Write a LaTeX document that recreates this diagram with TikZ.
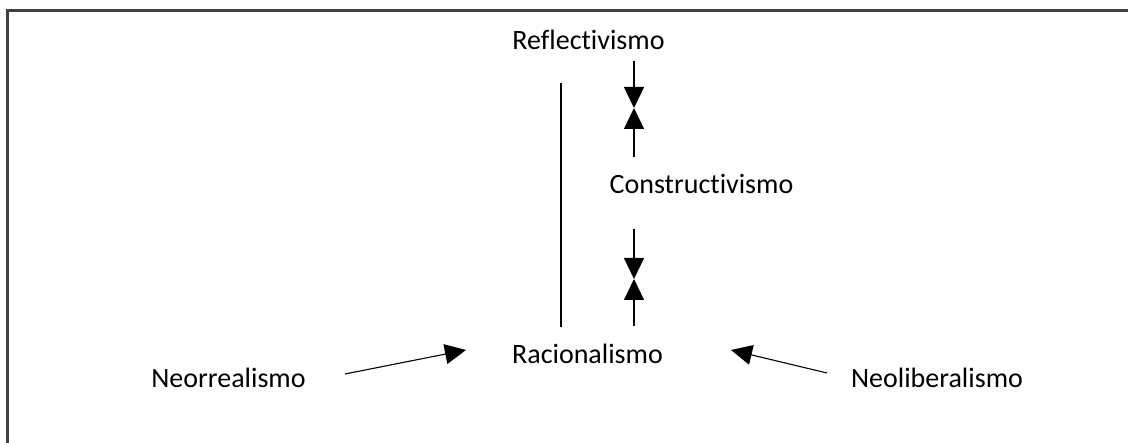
\documentclass[tikz,border=0pt]{standalone}
\usepackage{fontspec}
\setmainfont{Carlito}[Ligatures={NoCommon,NoRare,NoDiscretionary}]
\usetikzlibrary{arrows.meta}
\begin{document}
\begin{tikzpicture}[x=1pt,y=1pt,
  lbl/.style={inner sep=0pt, anchor=base, font=\fontsize{28}{32}\selectfont, text=black},
  conn/.style={line width=1.1pt, draw=black},
  arr/.style={conn, -{Triangle[width=20pt,length=21pt]}},
  frame/.style={line width=2.2pt, draw=black!75}]
\useasboundingbox (0,0) rectangle (1128,443);
\draw[frame] (7.5,0) -- (7.5,432.5) -- (1128,432.5);
% labels (y = 443 - pixel baseline)
\node[lbl] (refl) at (588.5,393) {Reflectivismo};
\node[lbl] (cons) at (701.5,249) {Constructivismo};
\node[lbl] (rac)  at (587.5,79) {Racionalismo};
\node[lbl] (neor) at (228.5,55) {Neorrealismo};
\node[lbl] (neol) at (937,55) {Neoliberalismo};
% vertical separator
\coordinate (vt) at (561,360);
\coordinate (vb) at (561,116);
\draw[conn] (vt) -- (vb);
% upper double arrow
\coordinate (a1t) at (634,382);
\coordinate (a1m) at (634,335);
\coordinate (a1b) at (634,286);
\draw[arr] (a1t) -- (a1m);
\draw[arr] (a1b) -- (a1m);
% lower double arrow
\coordinate (a2t) at (634,214);
\coordinate (a2m) at (634,164);
\coordinate (a2b) at (634,117);
\draw[arr] (a2t) -- (a2m);
\draw[arr] (a2b) -- (a2m);
% side arrows
\coordinate (nrs) at (345,69);
\coordinate (nre) at (466,93);
\draw[arr] (nrs) -- (nre);
\coordinate (nls) at (827,70);
\coordinate (nle) at (731,93);
\draw[arr] (nls) -- (nle);
\end{tikzpicture}
\end{document}
